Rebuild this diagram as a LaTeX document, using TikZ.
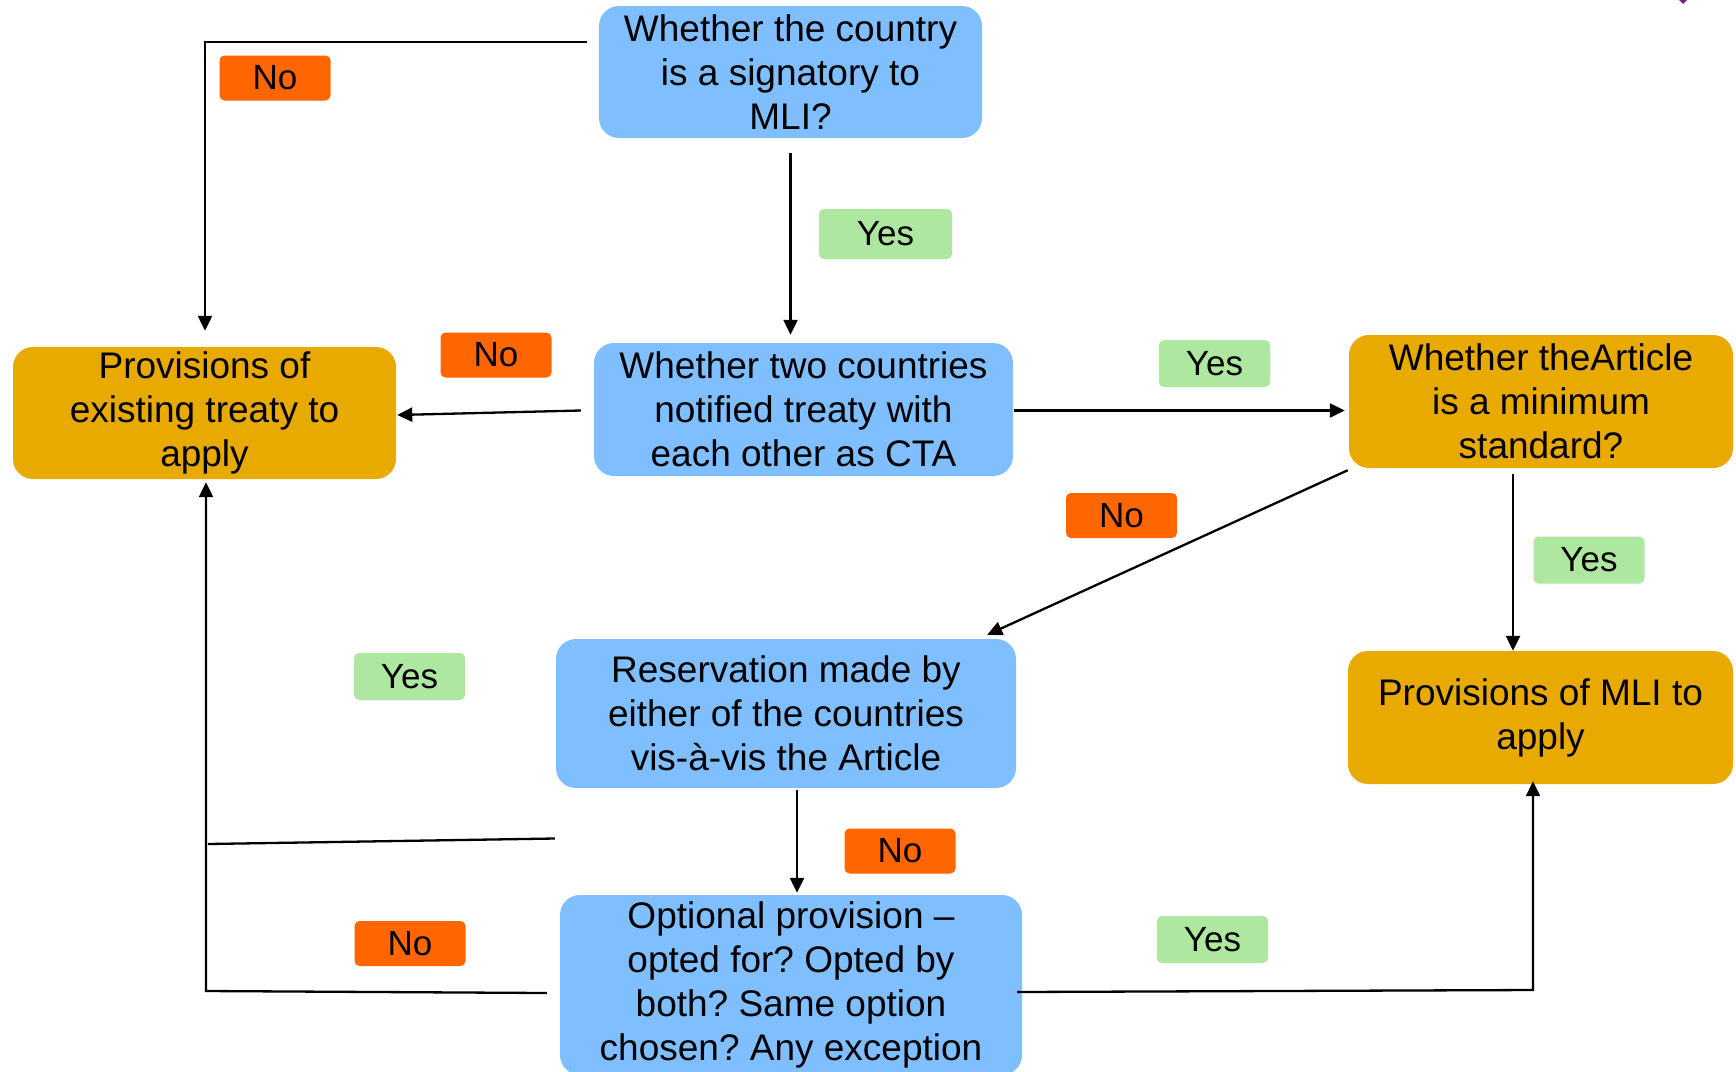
\documentclass[tikz,border=0pt]{standalone}
\usepackage{fontspec}
\setmainfont{Liberation Sans}
\usetikzlibrary{calc,arrows.meta}
\definecolor{boxblue}{RGB}{128,191,255}
\definecolor{boxgold}{RGB}{233,170,0}
\definecolor{lblorange}{RGB}{255,102,0}
\definecolor{lblgreen}{RGB}{174,232,160}
\definecolor{markpurple}{RGB}{112,40,140}
\tikzset{
  mainbox/.style={draw=none, rounded corners=20pt, inner sep=0pt, align=center,
    font=\fontsize{37}{44}\selectfont},
  bluebox/.style={mainbox, fill=boxblue},
  goldbox/.style={mainbox, fill=boxgold},
  lbl/.style={draw=none, rounded corners=5pt, inner sep=0pt, minimum width=111pt,
    minimum height=45pt, font=\fontsize{35}{40}\selectfont},
  nolbl/.style={lbl, fill=lblorange},
  yeslbl/.style={lbl, fill=lblgreen},
  conn/.style={line width=2.3pt, black},
  arr/.style={conn, -{Triangle[length=15pt,width=14pt]}}
}
\begin{document}
\frenchspacing
\begin{tikzpicture}[x=1pt,y=-1pt]
\useasboundingbox (0,0) rectangle (1736,1071);
% main boxes
\node[bluebox, minimum width=383pt, minimum height=132pt] (top) at (790.5,72)
  {Whether the country\\is a signatory to\\MLI?};
\node[bluebox, minimum width=419pt, minimum height=133pt] (n2) at (803.5,409.5)
  {Whether two countries\\notified treaty with\\each other as CTA};
\node[goldbox, minimum width=383pt, minimum height=132pt] (left) at (204.5,413)
  {Provisions of\\existing treaty to\\apply};
\node[goldbox, minimum width=384pt, minimum height=133pt] (rt) at (1541,401.5)
  {Whether theArticle\\is a minimum\\standard?};
\node[goldbox, minimum width=385pt, minimum height=133pt] (rb) at (1540.5,717.5)
  {Provisions of MLI to\\apply};
\node[bluebox, minimum width=460pt, minimum height=149pt] (res) at (786,713.5)
  {Reservation made by\\either of the countries\\vis-à-vis the Article};
\node[bluebox, minimum width=462pt, minimum height=180pt] (opt) at (791,985)
  {Optional provision –\\opted for? Opted by\\both? Same option\\chosen? Any exception};
% labels
\node[nolbl] (noA) at (275,78) {No};
\node[yeslbl, minimum width=133pt, minimum height=50pt] (yesA) at (885.5,234) {Yes};
\node[nolbl] (noB) at (496,355) {No};
\node[yeslbl, minimum height=47pt] (yesB) at (1214.5,363.5) {Yes};
\node[nolbl] (noC) at (1121.5,515.5) {No};
\node[yeslbl, minimum height=47pt] (yesC) at (1589,560) {Yes};
\node[yeslbl, minimum height=47pt] (yesD) at (409.5,676.5) {Yes};
\node[nolbl] (noD) at (900,851) {No};
\node[nolbl] (noE) at (410,943.5) {No};
\node[yeslbl, minimum height=47pt] (yesE) at (1212.5,939.5) {Yes};
% junction coordinates
\coordinate (c1) at (205,42);
\coordinate (j1) at (208,844);
\coordinate (cB) at (206,991);
\coordinate (cR) at (1533,990);
% connectors
\draw[arr] ($(top.west)+(-12,-30)$) -- (c1) -- ($(left.north)+(0.5,-16)$);
\draw[arr] ($(top.south)+(0,15)$) -- ($(n2.north -| top.south)+(0,-8)$);
\draw[arr] ($(n2.west)+(-13,1)$) -- ($(left.east)+(1,2)$);
\draw[arr] ($(n2.east)+(1,1)$) -- ($(rt.west)+(-4,9)$);
\draw[arr] ($(rt.south west)+(-1,2)$) -- ($(res.north east)+(-29,-4)$);
\draw[arr] ($(rt.south)+(-28,6)$) -- ($(rb.north)+(-27.5,0)$);
\draw[arr] ($(res.south)+(11,2)$) -- ($(opt.north)+(6,-2)$);
\draw[conn] ($(res.west)+(-1,125)$) -- (j1);
\draw[arr] ($(opt.west)+(-13,8)$) -- (cB) -- ($(left.south)+(1.5,3)$);
\draw[arr] ($(opt.east)+(-5,7)$) -- (cR) -- ($(rb.south)+(-7.5,-3)$);
% small purple mark at top edge
\fill[markpurple] (1679,0) -- (1687,0) -- (1683,4) -- cycle;
\end{tikzpicture}
\end{document}
